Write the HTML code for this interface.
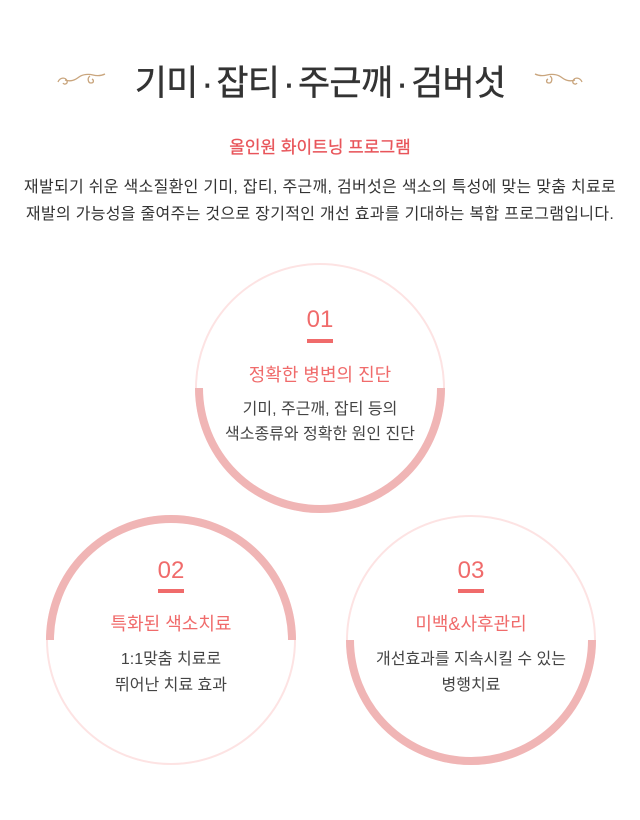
<!DOCTYPE html>
<html><head><meta charset="utf-8"><style>
body{margin:0;width:640px;height:820px;background:#fff;position:relative;overflow:hidden;font-family:"Liberation Sans","Noto Sans CJK KR",sans-serif;}
.t{position:absolute;left:0;width:640px;text-align:center;white-space:nowrap;}
.d{margin:0 4px;}
</style></head><body>
<div class="t" style="top:55px;font-size:35px;color:#333;letter-spacing:-0.8px;-webkit-text-stroke:0.4px #333;">기미<span class="d">·</span>잡티<span class="d">·</span>주근깨<span class="d">·</span>검버섯</div>
<svg style="position:absolute;left:0;top:0" width="640" height="120">
<g fill="none" stroke="#c9a57d" stroke-width="1.3">
<path d="M58 82 c2 -5 8 -5 9 -1 c1 3 -3 4 -4 2 M65 80 c6 2 10 0 14 -3 c4 -3 10 -3 14 -2 c4 1 8 1 12 -1 M90 76 c-3 2 -2 7 1 7 c3 0 3 -3 1 -4"/>
<path d="M582 82 c-2 -5 -8 -5 -9 -1 c-1 3 3 4 4 2 M575 80 c-6 2 -10 0 -14 -3 c-4 -3 -10 -3 -14 -2 c-4 1 -8 1 -12 -1 M550 76 c3 2 2 7 -1 7 c-3 0 -3 -3 -1 -4"/>
</g></svg>
<div class="t" style="top:133px;font-size:17px;color:#e8555a;-webkit-text-stroke:0.3px #e8555a;">올인원 화이트닝 프로그램</div>
<div class="t" style="top:174px;font-size:16px;color:#333;line-height:27px;letter-spacing:0.3px;">재발되기 쉬운 색소질환인 기미, 잡티, 주근깨, 검버섯은 색소의 특성에 맞는 맞춤 치료로<br>재발의 가능성을 줄여주는 것으로 장기적인 개선 효과를 기대하는 복합 프로그램입니다.</div>
<svg style="position:absolute;left:0;top:0" width="640" height="820">
<g fill="none">
<circle cx="320" cy="388" r="124" stroke="#fde3e3" stroke-width="2"/>
<path d="M199 388 A121 121 0 0 0 441 388" stroke="#f0b5b5" stroke-width="8"/>
<circle cx="171" cy="640" r="124" stroke="#fde3e3" stroke-width="2"/>
<path d="M50 640 A121 121 0 0 1 292 640" stroke="#f0b5b5" stroke-width="8"/>
<circle cx="471" cy="640" r="124" stroke="#fde3e3" stroke-width="2"/>
<path d="M350 640 A121 121 0 0 0 592 640" stroke="#f0b5b5" stroke-width="8"/>
</g>
<g fill="#f06b6b">
<rect x="307" y="339" width="26" height="4"/>
<rect x="158" y="589" width="26" height="4"/>
<rect x="458" y="589" width="26" height="4"/>
</g>
</svg>
<div class="t" style="left:170px;width:300px;top:306px;font-size:24px;color:#f06b6b;">01</div>
<div class="t" style="left:170px;width:300px;top:361px;font-size:18px;color:#f06b6b;">정확한 병변의 진단</div>
<div class="t" style="left:170px;width:300px;top:397px;font-size:16px;color:#444;line-height:25px;">기미, 주근깨, 잡티 등의<br>색소종류와 정확한 원인 진단</div>
<div class="t" style="left:21px;width:300px;top:557px;font-size:24px;color:#f06b6b;">02</div>
<div class="t" style="left:21px;width:300px;top:610px;font-size:18px;color:#f06b6b;">특화된 색소치료</div>
<div class="t" style="left:21px;width:300px;top:647px;font-size:16px;color:#444;line-height:26px;">1:1맞춤 치료로<br>뛰어난 치료 효과</div>
<div class="t" style="left:321px;width:300px;top:557px;font-size:24px;color:#f06b6b;">03</div>
<div class="t" style="left:321px;width:300px;top:610px;font-size:18px;color:#f06b6b;">미백&amp;사후관리</div>
<div class="t" style="left:321px;width:300px;top:647px;font-size:16px;color:#444;line-height:26px;">개선효과를 지속시킬 수 있는<br>병행치료</div>
</body></html>
